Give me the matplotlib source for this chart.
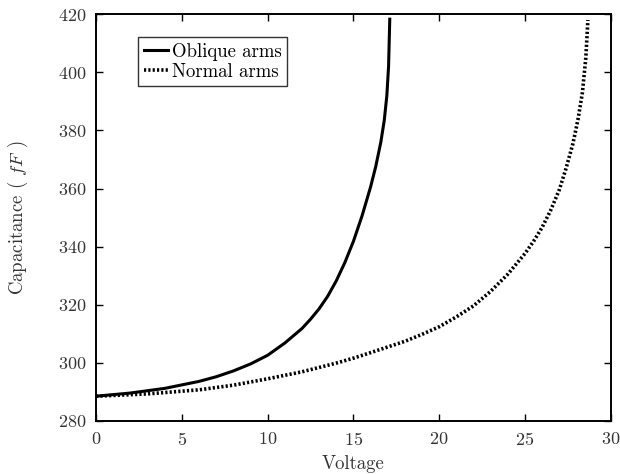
import matplotlib
matplotlib.use("Agg")
from matplotlib import pyplot as plt

plt.rcParams["font.family"] = "cmr10"
plt.rcParams["mathtext.fontset"] = "cm"
plt.rcParams["axes.unicode_minus"] = False
plt.rcParams["axes.formatter.use_mathtext"] = True

# capacitance vs. voltage, read for the two arm geometries
oblique_v = [0, 2, 4, 6, 7, 8, 9, 10, 11, 12, 12.5, 13, 13.5, 14, 14.5, 15, 15.5, 16,
             16.3, 16.6, 16.8, 16.95, 17.05, 17.12]
oblique_c = [288.5, 289.6, 291.2, 293.6, 295.2, 297.2, 299.6, 302.6, 306.8, 311.8, 315.0,
             318.6, 322.9, 328.2, 334.5, 341.8, 350.5, 360.5, 367.5, 376.0, 383.5, 392.0,
             402.0, 418.3]

normal_v = [0, 3, 6, 8, 10, 12, 14, 15, 16, 18, 19, 20, 21, 22, 23, 24, 25, 25.5, 26, 26.5,
            27, 27.4, 27.8, 28.1, 28.35, 28.55, 28.67]
normal_c = [288.5, 289.3, 290.7, 292.3, 294.5, 296.9, 299.9, 301.6, 303.5, 307.4, 309.8,
            312.4, 315.8, 319.6, 324.6, 330.5, 337.6, 341.8, 346.6, 352.5, 359.5, 367.0,
            375.5, 384.0, 393.0, 405.0, 418.0]

x_ticks = [0, 5, 10, 15, 20, 25, 30]
y_ticks = [280, 300, 320, 340, 360, 380, 400, 420]

fig = plt.figure(figsize=(6.2, 4.74), dpi=100)
ax = fig.add_axes([0.155, 0.112, 0.83, 0.858])

ax.plot(oblique_v, oblique_c, "k-", lw=2.2, label="Oblique arms")
ax.plot(normal_v, normal_c, color="k", ls=(0, (0.6, 0.6)), lw=2.6, label="Normal arms")

ax.set_xlim(0, 30)
ax.set_ylim(280, 420)
ax.set_xticks(x_ticks)
ax.set_yticks(y_ticks)
ax.tick_params(direction="in", top=True, right=True, length=5, width=1,
               labelsize=13, labelcolor="#333333", pad=7)
for s in ax.spines.values():
    s.set_linewidth(1.4)

ax.set_xlabel("Voltage", fontsize=13.5, color="#333333", labelpad=5)
ax.set_ylabel("Capacitance ( $fF$ )", fontsize=13.5, color="#333333", labelpad=20)

leg = ax.legend(loc="upper left", bbox_to_anchor=(0.082, 0.943), fontsize=13.5,
                handlelength=1.3, handletextpad=0.2, borderpad=0.3, labelspacing=0.1,
                borderaxespad=0, fancybox=False, edgecolor="#333333", framealpha=1)
leg.get_frame().set_linewidth(1.0)

fig.savefig("out.png", dpi=100)
